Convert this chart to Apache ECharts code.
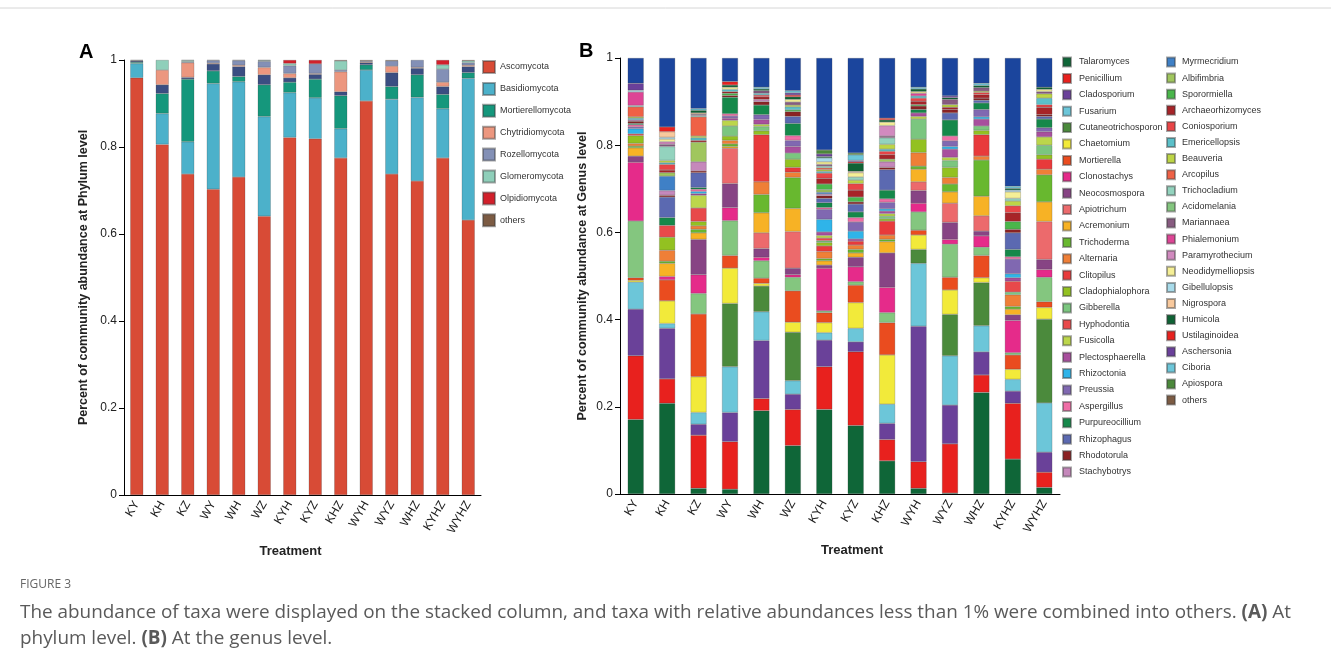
<!DOCTYPE html>
<html><head><meta charset="utf-8">
<script src="https://cdn.jsdelivr.net/npm/echarts@6/dist/echarts.min.js"></script>
<style>html,body{margin:0;padding:0;background:#fff;}#c{width:1331px;height:668px;}</style>
</head><body><div id="c"></div>
<script>
// ---------- categories ----------
const samples = ['KY','KH','KZ','WY','WH','WZ','KYH','KYZ','KHZ','WYH','WYZ','WHZ','KYHZ','WYHZ'];

// ---------- Panel A : phylum level (values per sample, same order as samples) ----------
const ascomycota        = [.959,.806,.738,.703,.731,.641,.822,.819,.775,.906,.738,.722,.775,.632];
const basidiomycota     = [.033,.071,.074,.243,.219,.229,.103,.094,.067,.071,.172,.192,.113,.326];
const mortierellomycota = [.003,.046,.144,.029,.012,.073,.024,.043,.076,.012,.029,.052,.033,.013];
const unlistedPhylum    = [.003,.020,.004,.016,.023,.023,.010,.011,.009,.005,.032,.015,.018,.014];
const chytridiomycota   = [.001,.034,.034,.002,.003,.017,.010,.002,.046,.002,.015,.002,.010,.003];
const rozellomycota     = [0,0,.002,.006,.011,.014,.018,.022,.004,.002,.012,.017,.030,.006];
const glomeromycota     = [0,.023,.003,0,0,.002,.005,0,.021,0,0,0,.010,.004];
const olpidiomycota     = [0,0,0,0,0,0,.008,.009,0,0,0,0,.011,0];
const phylumOthers      = [.001,0,.001,.001,.001,.001,0,0,.002,.002,.002,0,0,.002];

// ---------- Panel B : genus level ----------
const talaromyces       = [.171,.208,.013,.011,.191,.111,.194,.157,.076,.013,.002,.233,.080,.015];
const penicillium       = [.146,.056,.122,.109,.028,.083,.098,.169,.049,.061,.113,.040,.128,.035];
const cladosporium      = [.107,.116,.025,.067,.133,.035,.061,.023,.037,.311,.089,.053,.028,.046];
const fusarium          = [.062,.011,.027,.105,.066,.031,.017,.031,.044,.144,.113,.060,.027,.113];
const cutaneotrichosporon=[0,0,0,.145,.059,.111,0,0,0,.032,.095,.099,0,.192];
const chaetomium        = [.004,.052,.082,.081,.006,.023,.023,.059,.113,.033,.056,.011,.023,.027];
const mortierella       = [.006,.048,.144,.029,.012,.072,.023,.040,.074,.011,.029,.051,.033,.013];
const acidomelania      = [.130,0,.047,.080,.040,.031,.004,.008,.023,.042,.076,.019,.005,.056];
const clonostachys      = [.135,.008,.043,.030,.008,.006,.098,.034,.058,.020,.011,.026,.074,.018];
const neocosmospora     = [.014,0,.081,.055,.020,.015,.007,.022,.079,.029,.039,.011,.013,.023];
const apiotrichum       = [0,0,0,.081,.036,.084,0,0,0,.020,.044,.035,0,.087];
const acremonium        = [.019,.030,.015,.004,.046,.053,.010,.010,.026,.029,.026,.045,.013,.045];
const trichoderma       = [.004,.005,.008,.006,.042,.071,.005,.008,.005,.007,.018,.083,.006,.062];
const alternaria        = [.006,.025,.008,.008,.029,.012,.016,.010,.010,.031,.015,.009,.027,.013];
const clitopilus        = [0,0,0,0,.108,.011,.013,.009,.032,0,0,.049,0,.023];
const cladophialophora  = [.018,.030,.010,.010,.009,.019,.008,0,.005,.031,.023,.010,0,.010];
const gibberella        = [0,0,0,.023,.010,.014,.004,0,.006,.046,.016,.010,.006,.022];
const hyphodontia       = [.004,.027,.031,0,0,0,.006,0,0,0,0,0,.025,0];
const fusicolla         = [0,0,.029,.013,.005,0,.006,0,.006,.006,.007,0,0,.019];
const plectosphaerella  = [0,0,.004,.005,.011,.015,.008,.005,.006,.008,.019,.016,.008,.012];
const rhizoctonia       = [.012,0,.005,0,0,0,.029,.018,.005,0,.006,.005,.009,0];
const preussia          = [.004,0,0,.005,.011,.014,.023,.021,.015,0,.013,.017,.034,.009];
const aspergillus       = [.005,0,.005,.005,0,.011,.004,.010,.008,0,.011,0,.005,0];
const purpureocillium   = [.003,.018,.004,.038,.022,.028,.011,.013,.020,.008,.037,.015,.017,.020];
const rhizophagus       = [0,.047,.034,0,0,.016,.010,.018,.047,0,.016,.006,.038,.006];
const rhodotorula       = [.005,.004,.004,.004,.008,.011,.006,.005,.005,.008,.008,.005,.008,.004];
const stachybotrys      = [.003,.011,.021,0,.005,0,.004,0,.013,0,0,0,0,0];
const myrmecridium      = [0,.033,0,0,0,0,.004,0,0,0,0,0,0,0];
const albifimbria       = [0,.008,.045,0,0,0,.006,0,.006,0,0,0,0,0];
const sporormiella      = [0,0,0,.005,0,.004,.013,.011,0,.003,0,0,.018,0];
const archaeorhizomyces = [0,.006,.004,.004,.006,0,.013,.016,.010,.008,.005,.008,.020,.017];
const coniosporium      = [0,.013,0,0,.004,0,.012,.015,.008,.007,0,.005,.016,.006];
const emericellopsis    = [.004,.004,.006,.005,.004,.007,.004,0,.005,.005,0,0,0,.015];
const beauveria         = [.003,.005,.004,0,0,.004,.004,.008,.011,0,.006,.003,.011,.010];
const arcopilus         = [.023,0,.044,0,0,0,.004,0,0,0,0,0,0,0];
const trichocladium     = [.003,.032,.003,0,0,0,.004,.007,.015,0,0,0,.006,0];
const mariannaea        = [0,.005,.003,0,.006,.007,.004,0,.004,0,.012,.008,0,.005];
const phialemonium      = [.031,0,0,0,0,0,0,0,0,.006,0,0,0,0];
const paramyrothecium   = [0,.006,0,0,0,0,0,0,.024,0,0,0,0,0];
const neodidymelliopsis = [0,.006,0,.005,0,.006,.006,.010,.008,.004,0,0,.015,.005];
const gibellulopsis     = [.004,.004,0,0,0,0,.009,0,0,0,0,0,.004,0];
const nigrospora        = [0,.013,.003,0,0,0,0,.003,0,0,0,0,0,0];
const humicola          = [0,0,.006,.005,.004,.006,.003,.019,.005,.006,.004,.005,.004,.005];
const ustilaginoidea    = [0,.011,0,.008,0,.004,0,.003,.004,0,0,0,0,0];
const aschersonia       = [.016,0,0,0,0,.005,.006,.003,0,0,.004,0,0,0];
const ciboria           = [0,0,.004,0,.004,.005,0,.013,0,.004,0,.005,.005,0];
const apiospora         = [0,0,0,0,0,0,.009,.004,0,0,0,0,0,0];
const genusOthers       = [.058,.158,.116,.054,.067,.075,.211,.218,.138,.067,.087,.058,.294,.067];

// ---------- series definitions (stack order bottom -> top) ----------
const phylumSeries = [
  ['Ascomycota', ascomycota, '#d84b36'],
  ['Basidiomycota', basidiomycota, '#4cb1ca'],
  ['Mortierellomycota', mortierellomycota, '#15977c'],
  ['unlisted', unlistedPhylum, '#3b4e82'],
  ['Chytridiomycota', chytridiomycota, '#ec977f'],
  ['Rozellomycota', rozellomycota, '#8390b6'],
  ['Glomeromycota', glomeromycota, '#8fcfba'],
  ['Olpidiomycota', olpidiomycota, '#d2202b'],
  ['others', phylumOthers, '#7c5b43']
];
const phylumLegend = ['Ascomycota','Basidiomycota','Mortierellomycota','Chytridiomycota','Rozellomycota','Glomeromycota','Olpidiomycota','others'];

const genusSeries = [
  ['Talaromyces', talaromyces, '#0f6638'],
  ['Penicillium', penicillium, '#e8211e'],
  ['Cladosporium', cladosporium, '#6a4199'],
  ['Fusarium', fusarium, '#6cc6d9'],
  ['Cutaneotrichosporon', cutaneotrichosporon, '#4b8a3c'],
  ['Chaetomium', chaetomium, '#f2ea3a'],
  ['Mortierella', mortierella, '#ea4c1f'],
  ['Acidomelania', acidomelania, '#84c67f'],
  ['Clonostachys', clonostachys, '#e52b8a'],
  ['Neocosmospora', neocosmospora, '#874484'],
  ['Apiotrichum', apiotrichum, '#ec6a6c'],
  ['Acremonium', acremonium, '#f7b225'],
  ['Trichoderma', trichoderma, '#68b82f'],
  ['Alternaria', alternaria, '#ef7f37'],
  ['Clitopilus', clitopilus, '#e83a3b'],
  ['Cladophialophora', cladophialophora, '#93c121'],
  ['Gibberella', gibberella, '#7bc67f'],
  ['Hyphodontia', hyphodontia, '#e8494a'],
  ['Fusicolla', fusicolla, '#bcd64b'],
  ['Plectosphaerella', plectosphaerella, '#a84f9d'],
  ['Rhizoctonia', rhizoctonia, '#2fb4e9'],
  ['Preussia', preussia, '#8068b1'],
  ['Aspergillus', aspergillus, '#ef6ea6'],
  ['Purpureocillium', purpureocillium, '#15884a'],
  ['Rhizophagus', rhizophagus, '#5b69b1'],
  ['Rhodotorula', rhodotorula, '#8b2223'],
  ['Stachybotrys', stachybotrys, '#c588bb'],
  ['Myrmecridium', myrmecridium, '#3f80c6'],
  ['Albifimbria', albifimbria, '#a0c65e'],
  ['Sporormiella', sporormiella, '#4ab64b'],
  ['Archaeorhizomyces', archaeorhizomyces, '#a72428'],
  ['Coniosporium', coniosporium, '#e84547'],
  ['Emericellopsis', emericellopsis, '#5bc0c9'],
  ['Beauveria', beauveria, '#bdd546'],
  ['Arcopilus', arcopilus, '#ef6146'],
  ['Trichocladium', trichocladium, '#93d3be'],
  ['Mariannaea', mariannaea, '#875b80'],
  ['Phialemonium', phialemonium, '#dd4595'],
  ['Paramyrothecium', paramyrothecium, '#d18abf'],
  ['Neodidymelliopsis', neodidymelliopsis, '#f5ef96'],
  ['Gibellulopsis', gibellulopsis, '#a8dbea'],
  ['Nigrospora', nigrospora, '#f8c99d'],
  ['Humicola', humicola, '#0f6234'],
  ['Ustilaginoidea', ustilaginoidea, '#e8221f'],
  ['Aschersonia', aschersonia, '#6a409a'],
  ['Ciboria', ciboria, '#6cc6d9'],
  ['Apiospora', apiospora, '#4b883b'],
  ['others', genusOthers, '#1b459d']
];
const genusLegend1 = ['Talaromyces','Penicillium','Cladosporium','Fusarium','Cutaneotrichosporon','Chaetomium','Mortierella','Clonostachys','Neocosmospora','Apiotrichum','Acremonium','Trichoderma','Alternaria','Clitopilus','Cladophialophora','Gibberella','Hyphodontia','Fusicolla','Plectosphaerella','Rhizoctonia','Preussia','Aspergillus','Purpureocillium','Rhizophagus','Rhodotorula','Stachybotrys'];
const genusLegend2 = ['Myrmecridium','Albifimbria','Sporormiella','Archaeorhizomyces','Coniosporium','Emericellopsis','Beauveria','Arcopilus','Trichocladium','Acidomelania','Mariannaea','Phialemonium','Paramyrothecium','Neodidymelliopsis','Gibellulopsis','Nigrospora','Humicola','Ustilaginoidea','Aschersonia','Ciboria','Apiospora','others'];

const FONT = 'Liberation Sans';
const clean = arr => arr.map(v => v > 0 ? v : null);

const series = [];
phylumSeries.forEach(([n, d, c]) => series.push({
  type:'bar', name:n, stack:'A', xAxisIndex:0, yAxisIndex:0, barWidth:13,
  data: clean(d), itemStyle:{color:c, borderColor:'rgba(60,60,60,0.45)', borderWidth:0.5},
  emphasis:{disabled:true}
}));
genusSeries.forEach(([n, d, c]) => series.push({
  type:'bar', name:n, stack:'B', xAxisIndex:1, yAxisIndex:1, barWidth:16,
  data: clean(d), itemStyle:{color:c, borderColor:'rgba(60,60,60,0.45)', borderWidth:0.5},
  emphasis:{disabled:true}
}));

function xAx(idx, padding){
  return {type:'category', gridIndex:idx, data:samples,
    axisLine:{lineStyle:{color:'#000', width:1}},
    axisTick:{alignWithLabel:true, length:5, lineStyle:{color:'#000'}},
    axisLabel:{rotate:60, fontSize:12, color:'#222', fontFamily:FONT, margin:7},
    name:'Treatment', nameLocation:'middle', nameGap:50,
    nameTextStyle:{fontWeight:'bold', fontSize:13, color:'#222', fontFamily:FONT, padding:padding}};
}
function yAx(idx, name, gap){
  return {type:'value', gridIndex:idx, min:0, max:1, interval:0.2,
    axisLine:{show:true, lineStyle:{color:'#000', width:1}},
    axisTick:{show:true, length:5, lineStyle:{color:'#000'}},
    splitLine:{show:false},
    axisLabel:{fontSize:12, color:'#222', fontFamily:FONT, margin:7},
    name:name, nameLocation:'middle', nameGap:gap,
    nameTextStyle:{fontWeight:'bold', fontSize:12.5, color:'#222', fontFamily:FONT}};
}

const caption1 = 'The abundance of taxa were displayed on the stacked column, and taxa with relative abundances less than 1% were combined into others. ';
const CAP = 18.9;
const capRich = {n:{fontSize:CAP, fill:'#5a5a5a', fontFamily:'Open Sans'}, b:{fontSize:CAP, fontWeight:'bold', fill:'#5a5a5a', fontFamily:'Open Sans'}};
const option = {
  animation:false,
  textStyle:{fontFamily:FONT},
  grid:[
    {left:124, top:60, width:357, height:435},
    {left:620, top:58, width:440, height:436}
  ],
  xAxis:[xAx(0,[0,24,0,0]), xAx(1,[0,0,0,24])],
  yAxis:[yAx(0,'Percent of community abundance at Phylum level',34), yAx(1,'Percent of community abundance at Genus level',31)],
  legend:[
    {left:482, top:60, padding:0, orient:'vertical', icon:'rect', itemWidth:12, itemHeight:12, itemGap:7.9,
     selectedMode:false, data:phylumLegend, textStyle:{fontSize:9, color:'#333', fontFamily:FONT}},
    {left:1062, top:56.5, padding:0, orient:'vertical', icon:'rect', itemWidth:8, itemHeight:9, itemGap:5.4,
     selectedMode:false, data:genusLegend1, textStyle:{fontSize:9, color:'#333', fontFamily:FONT, padding:[0,0,0,3]}},
    {left:1166, top:56.5, padding:0, orient:'vertical', icon:'rect', itemWidth:8, itemHeight:9, itemGap:5.1,
     selectedMode:false, data:genusLegend2, textStyle:{fontSize:9, color:'#333', fontFamily:FONT, padding:[0,0,0,2]}}
  ],
  graphic:[
    {type:'line', shape:{x1:0, y1:8, x2:1331, y2:8}, style:{stroke:'#d6d6d6', lineWidth:1}},
    {type:'text', left:79, top:42, style:{text:'A', fontSize:20, fontWeight:'bold', fill:'#000', fontFamily:FONT}},
    {type:'text', left:579, top:41, style:{text:'B', fontSize:20, fontWeight:'bold', fill:'#000', fontFamily:FONT}},
    {type:'text', left:20, top:579, style:{text:'FIGURE 3', fontSize:12, fill:'#666', fontFamily:'Open Sans'}},
    {type:'text', left:20, top:603, style:{text:'{n|' + caption1 + '}{b|(A)}{n| At}', rich:capRich}},
    {type:'text', left:20, top:629, style:{text:'{n|phylum level. }{b|(B)}{n| At the genus level.}', rich:capRich}}
  ],
  series:series
};
const chart = echarts.init(document.getElementById('c'), null, {renderer:'canvas'});
chart.setOption(option);
</script></body></html>
